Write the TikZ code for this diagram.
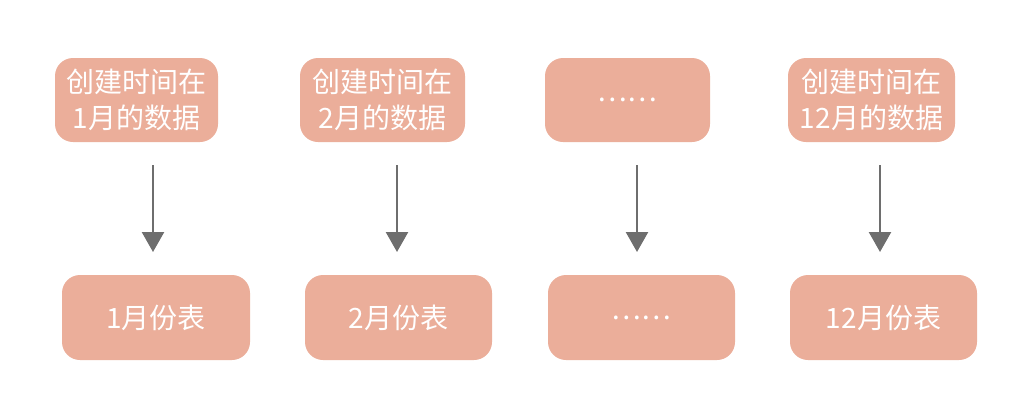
\documentclass[tikz,border=0pt]{standalone}
\usepackage{fontspec}
\newfontfamily\cjk{Noto Sans CJK SC}
\usetikzlibrary{arrows.meta}
\definecolor{boxc}{HTML}{EBAE9A}
\definecolor{arr}{HTML}{6E6E6E}
\begin{document}
\begin{tikzpicture}[x=1pt,y=-1pt,
 box/.style={fill=boxc,rounded corners=18pt,text=white,font=\cjk\fontsize{28}{36}\selectfont,align=center,inner sep=0pt},
 ar/.style={draw=arr,line width=2.5pt,-{Triangle[length=20pt,width=22pt]}}]
\useasboundingbox (0,0) rectangle (1026,408);
\foreach \n/\xa/\xb/\t in {a/55/218/{创建时间在\\1月的数据},b/300/465/{创建时间在\\2月的数据},c/545/710/{……},d/788/955/{创建时间在\\12月的数据}}{
 \path[box] (\xa,58) rectangle (\xb,142);
 \node[box,fill=none] (t\n) at ({(\xa+\xb)/2},100) {\t};
}
\foreach \n/\xa/\xb/\t in {a/62/250/{1月份表},b/305/492/{2月份表},c/548/735/{……},d/790/977/{12月份表}}{
 \path[box] (\xa,275) rectangle (\xb,360);
 \node[box,fill=none] (b\n) at ({(\xa+\xb)/2},318) {\t};
}
\foreach \n/\x in {a/153,b/397,c/637,d/880}{
 \coordinate (s\n) at (\x,165); \coordinate (e\n) at (\x,252);
 \draw[ar] (s\n) -- (e\n);
}
\end{tikzpicture}
\end{document}
